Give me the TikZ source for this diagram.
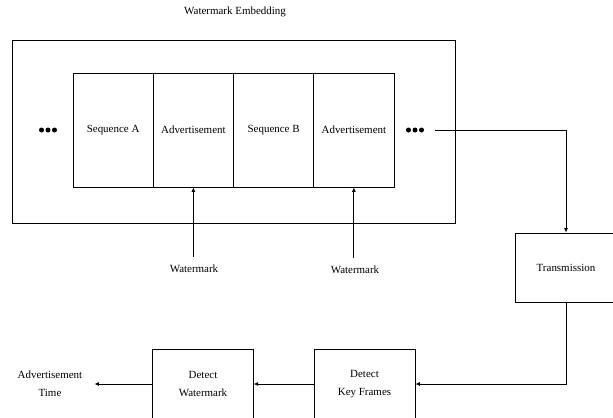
\documentclass[tikz,border=0pt]{standalone}
\usepackage{fontspec}
\setmainfont{Liberation Serif}
\usetikzlibrary{arrows.meta,calc}
\begin{document}
\begin{tikzpicture}[x=1bp,y=-1bp,
  every node/.style={font=\fontsize{11}{18}\selectfont, align=center},
  ln/.style={line width=0.8bp, draw=black},
  arr/.style={ln, -{Latex[length=4.5bp,width=4bp]}},
  cell/.style={ln, draw, minimum width=80.25bp, minimum height=114bp, inner sep=0pt},
  boxnode/.style={ln, draw, inner sep=0pt},
  lbl/.style={inner sep=1bp},
  dotf/.style={fill=black}]
\useasboundingbox (0,0) rectangle (613,417);
% title
\node[lbl] (title) at (235,12) {Watermark Embedding};
% outer box
\node[boxnode, minimum width=442.3bp, minimum height=183bp] (outer) at (233.85,131.5) {};
% inner cells
\node[cell] (seqA) at (113.125,130) {Sequence A};
\node[cell] (adv1) at (193.375,130) {Advertisement};
\node[cell] (seqB) at (273.625,130) {Sequence B};
\node[cell] (adv2) at (353.875,130) {Advertisement};
% dots
\foreach \x in {41.5,48,54.5} \fill[dotf] (\x,130) circle (2.5bp);
\foreach \x in {408.5,415,421.5} \fill[dotf] (\x,130) circle (2.5bp);
\coordinate (dr) at (435,130);
% watermark labels
\node[inner xsep=1bp, inner ysep=8bp] (wm1) at (194,269) {Watermark};
\node[inner xsep=1bp, inner ysep=8bp] (wm2) at (355,270) {Watermark};
\draw[arr] (wm1.north -| adv1.south) -- (adv1.south);
\draw[arr] (wm2.north -| adv2.south) -- (adv2.south);
% transmission
\node[boxnode, minimum width=102bp, minimum height=69bp] (trans) at (566,267.5) {Transmission};
\draw[arr] (dr) -| (trans.north);
% detect boxes
\node[boxnode, minimum width=101bp, minimum height=70bp] (dkf) at (364.5,384) {Detect\\Key Frames};
\node[boxnode, minimum width=100.5bp, minimum height=70bp] (dw) at (203,384) {Detect\\Watermark};
\node[inner xsep=12bp, inner ysep=1bp] (at) at (50,384) {Advertisement\\Time};
\draw[arr] (trans.south) |- (dkf.east);
\draw[arr] (dkf.west) -- (dw.east);
\draw[arr] (dw.west) -- (at.east);
\end{tikzpicture}
\end{document}
